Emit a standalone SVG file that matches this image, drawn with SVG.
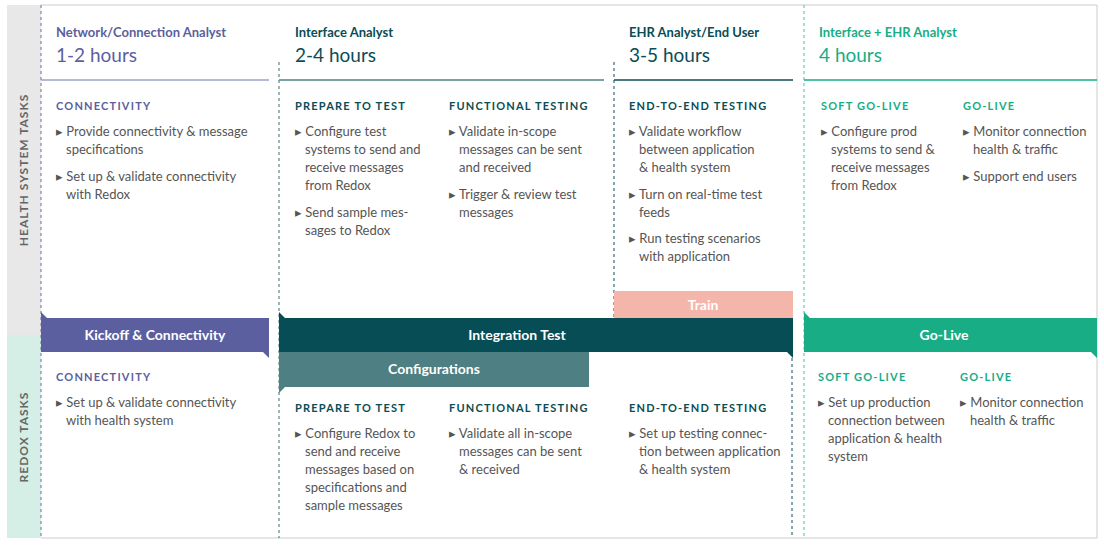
<svg xmlns="http://www.w3.org/2000/svg" width="1104" height="546" viewBox="0 0 1104 546">
<style>
text{font-family:Lato,"Open Sans","Liberation Sans",sans-serif}
.role{font-size:13px;font-weight:bold}
.hrs{font-size:19px}
.sec{font-size:11px;font-weight:bold;letter-spacing:1.2px}
.b{font-size:13px;fill:#555}
.bar{font-size:14px;font-weight:bold;fill:#fff;text-anchor:middle}
.side{font-size:12px;font-weight:bold;fill:#666;letter-spacing:1px;text-anchor:middle}
.dash{stroke-width:1;stroke-dasharray:3 3;fill:none}
.p{fill:#5b5fa0}.t{fill:#0a4d55}.g{fill:#18ad84}
</style>
<rect x="0" y="0" width="1104" height="546" fill="#fff"/>
<rect x="7" y="5" width="34" height="330" fill="#e8e8e8"/>
<rect x="7" y="335" width="34" height="203" fill="#d6efe6"/>
<text class="side" transform="translate(28 170) rotate(-90)">HEALTH SYSTEM TASKS</text>
<text class="side" transform="translate(28 437) rotate(-90)">REDOX TASKS</text>
<line x1="41" y1="5" x2="1097" y2="5" stroke="#ccc"/>
<line x1="41" y1="538" x2="1097" y2="538" stroke="#ccc"/>
<line x1="1097" y1="5" x2="1097" y2="538" stroke="#ccc"/>
<g id="connectors">
<line class="dash" x1="41" y1="5" x2="41" y2="538" stroke="#6a6ea8"/>
<line class="dash" x1="279" y1="62" x2="279" y2="538" stroke="#3b6f72"/>
<line class="dash" x1="614" y1="62" x2="614" y2="318" stroke="#0a4d55"/>
<line class="dash" x1="792" y1="352" x2="792" y2="538" stroke="#0a4d55"/>
<line class="dash" x1="804" y1="5" x2="804" y2="538" stroke="#4cc0a0"/>
<line x1="41" y1="80" x2="269" y2="80" stroke="#9da0cc" stroke-width="1.5"/>
<line x1="279" y1="80" x2="604" y2="80" stroke="#4d8583" stroke-width="1.5"/>
<line x1="614" y1="80" x2="793" y2="80" stroke="#0a4d55" stroke-width="1.5"/>
<line x1="804" y1="80" x2="1097" y2="80" stroke="#18ad84" stroke-width="1.5"/>
</g>
<g id="col1">
<text class="role p" x="56" y="37">Network/Connection Analyst</text>
<text class="hrs p" x="56" y="62">1-2 hours</text>
<text class="sec p" x="56" y="110">CONNECTIVITY</text>
<text class="b" x="56" y="136">▸ Provide connectivity &amp; message</text>
<text class="b" x="66" y="154">specifications</text>
<text class="b" x="56" y="181">▸ Set up &amp; validate connectivity</text>
<text class="b" x="66" y="199">with Redox</text>
<text class="sec p" x="56" y="381">CONNECTIVITY</text>
<text class="b" x="56" y="407">▸ Set up &amp; validate connectivity</text>
<text class="b" x="66" y="425">with health system</text>
</g>
<g id="col2">
<text class="role t" x="295" y="37">Interface Analyst</text>
<text class="hrs t" x="295" y="62">2-4 hours</text>
<text class="sec t" x="295" y="110">PREPARE TO TEST</text>
<text class="b" x="295" y="136">▸ Configure test</text>
<text class="b" x="305" y="154">systems to send and</text>
<text class="b" x="305" y="172">receive messages</text>
<text class="b" x="305" y="190">from Redox</text>
<text class="b" x="295" y="217">▸ Send sample mes-</text>
<text class="b" x="305" y="235">sages to Redox</text>
<text class="sec t" x="449" y="110">FUNCTIONAL TESTING</text>
<text class="b" x="449" y="136">▸ Validate in-scope</text>
<text class="b" x="459" y="154">messages can be sent</text>
<text class="b" x="459" y="172">and received</text>
<text class="b" x="449" y="199">▸ Trigger &amp; review test</text>
<text class="b" x="459" y="217">messages</text>
<text class="sec t" x="295" y="412">PREPARE TO TEST</text>
<text class="b" x="295" y="438">▸ Configure Redox to</text>
<text class="b" x="305" y="456">send and receive</text>
<text class="b" x="305" y="474">messages based on</text>
<text class="b" x="305" y="492">specifications and</text>
<text class="b" x="305" y="510">sample messages</text>
<text class="sec t" x="449" y="412">FUNCTIONAL TESTING</text>
<text class="b" x="449" y="438">▸ Validate all in-scope</text>
<text class="b" x="459" y="456">messages can be sent</text>
<text class="b" x="459" y="474">&amp; received</text>
</g>
<g id="col3">
<text class="role t" x="629" y="37">EHR Analyst/End User</text>
<text class="hrs t" x="629" y="62">3-5 hours</text>
<text class="sec t" x="629" y="110">END-TO-END TESTING</text>
<text class="b" x="629" y="136">▸ Validate workflow</text>
<text class="b" x="639" y="154">between application</text>
<text class="b" x="639" y="172">&amp; health system</text>
<text class="b" x="629" y="199">▸ Turn on real-time test</text>
<text class="b" x="639" y="217">feeds</text>
<text class="b" x="629" y="243">▸ Run testing scenarios</text>
<text class="b" x="639" y="261">with application</text>
<text class="sec t" x="629" y="412">END-TO-END TESTING</text>
<text class="b" x="629" y="438">▸ Set up testing connec-</text>
<text class="b" x="639" y="456">tion between application</text>
<text class="b" x="639" y="474">&amp; health system</text>
</g>
<g id="col4">
<text class="role g" x="819" y="37">Interface + EHR Analyst</text>
<text class="hrs g" x="819" y="62">4 hours</text>
<text class="sec g" x="821" y="110">SOFT GO-LIVE</text>
<text class="b" x="821" y="136">▸ Configure prod</text>
<text class="b" x="831" y="154">systems to send &amp;</text>
<text class="b" x="831" y="172">receive messages</text>
<text class="b" x="831" y="190">from Redox</text>
<text class="sec g" x="963" y="110">GO-LIVE</text>
<text class="b" x="963" y="136">▸ Monitor connection</text>
<text class="b" x="973" y="154">health &amp; traffic</text>
<text class="b" x="963" y="181">▸ Support end users</text>
<text class="sec g" x="818" y="381">SOFT GO-LIVE</text>
<text class="b" x="818" y="407">▸ Set up production</text>
<text class="b" x="828" y="425">connection between</text>
<text class="b" x="828" y="443">application &amp; health</text>
<text class="b" x="828" y="461">system</text>
<text class="sec g" x="960" y="381">GO-LIVE</text>
<text class="b" x="960" y="407">▸ Monitor connection</text>
<text class="b" x="970" y="425">health &amp; traffic</text>
</g>
<g id="kickoff">
<path d="M41 318 H269 V358 L263 352 H41 Z" fill="#5b5fa0"/>
<path d="M41 312 L47 318 H41 Z" fill="#5b5fa0"/>
<text class="bar" x="155" y="340">Kickoff &amp; Connectivity</text>
</g>
<g id="integration">
<path d="M279 312 L285 318 H793 V358 L787 352 H279 Z" fill="#064d55"/>
<text class="bar" x="517" y="340">Integration Test</text>
</g>
<g id="configurations">
<path d="M279 352 H589 V387 H285 L279 393 Z" fill="#4e7f82"/>
<text class="bar" x="434" y="374">Configurations</text>
</g>
<g id="train">
<rect x="614" y="291" width="179" height="27" fill="#f4b5aa"/>
<text class="bar" x="703" y="310">Train</text>
</g>
<g id="golive">
<path d="M804 312 L810 318 H1097 V358 L1091 352 H804 Z" fill="#18ad84"/>
<text class="bar" x="944" y="340">Go-Live</text>
</g>
</svg>
